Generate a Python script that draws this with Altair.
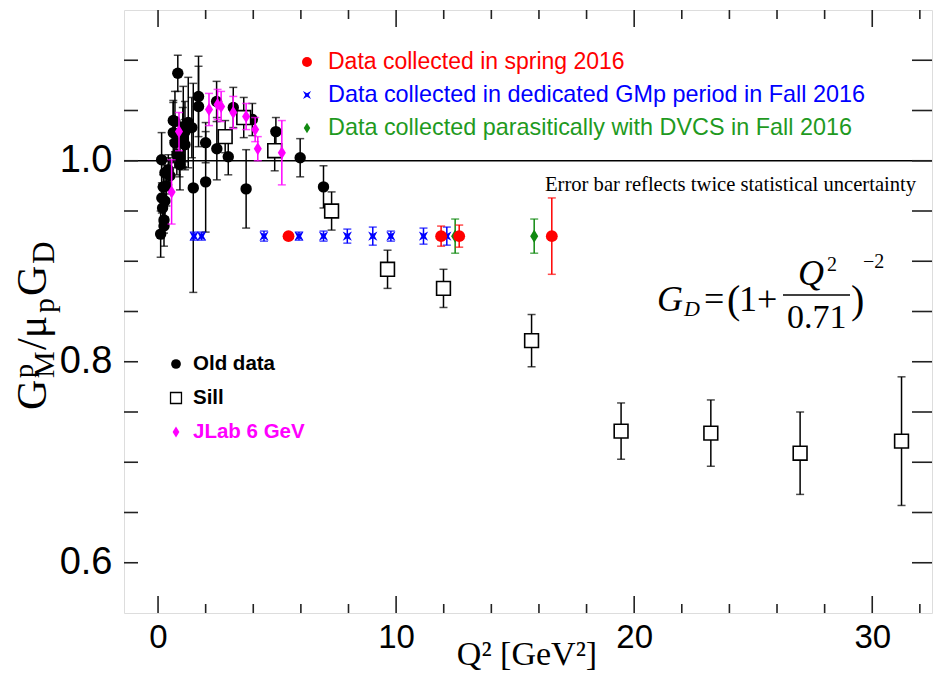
import altair as alt
import pandas as pd

# ---------------- data ----------------
old_q2 = [0.11, 0.15, 0.16, 0.19, 0.22, 0.25, 0.25, 0.29, 0.29, 0.35, 0.43, 0.5,
          0.64, 0.64, 0.71, 0.71, 0.79, 0.83, 0.9, 0.92, 1.04, 1.06, 1.13, 1.13,
          1.27, 1.42, 1.48, 1.7, 1.7, 2.0, 2.0, 2.46, 2.47, 2.95, 3.16, 3.7,
          3.96, 4.95, 5.97, 6.95]
old_val = [0.927, 1.001, 0.963, 0.953, 0.974, 0.941, 0.935, 0.988, 0.96, 0.975, 0.991, 0.985,
           1.028, 1.04, 1.018, 1.039, 1.006, 1.087, 1.004, 0.996, 1.023, 1.034, 1.016, 1.029,
           1.038, 1.033, 0.973, 1.064, 1.054, 1.018, 0.979, 1.059, 1.012, 1.004, 1.053, 0.972,
           1.041, 1.029, 1.003, 0.974]
old_err = [0.023, 0.027, 0.015, 0.014, 0.012, 0.013, 0.02, 0.012, 0.016, 0.02, 0.015, 0.018,
           0.03, 0.02, 0.025, 0.03, 0.02, 0.018, 0.02, 0.025, 0.03, 0.04, 0.025, 0.03,
           0.045, 0.03, 0.104, 0.04, 0.04, 0.02, 0.05, 0.02, 0.031, 0.018, 0.02, 0.039,
           0.016, 0.014, 0.019, 0.021]

jlab_q2 = [0.57, 0.88, 2.14, 2.5, 2.65, 3.16, 3.7, 4.08, 4.19, 5.2]
jlab_val = [0.969, 1.029, 1.051, 1.056, 1.054, 1.048, 1.044, 1.031, 1.012, 1.008]
jlab_err = [0.032, 0.019, 0.016, 0.015, 0.015, 0.016, 0.013, 0.012, 0.012, 0.032]

sill_q2 = [2.82, 3.6, 4.9, 7.29, 9.64, 11.99, 15.69, 19.45, 23.22, 26.97, 31.23]
sill_val = [1.024, 1.043, 1.01, 0.950, 0.892, 0.873, 0.821, 0.731, 0.729, 0.709, 0.721]
sill_err = [0.016, 0.02, 0.02, 0.019, 0.019, 0.019, 0.026, 0.028, 0.033, 0.041, 0.064]

gmp_q2 = [1.51, 1.83, 4.45, 5.92, 6.95, 7.95, 9.02, 9.78, 11.15, 12.13]
gmp_val = [0.925] * 10
gmp_err = [0.004, 0.004, 0.005, 0.004, 0.005, 0.007, 0.009, 0.005, 0.008, 0.009]

spring_q2 = [5.48, 11.89, 12.65, 16.54]
spring_val = [0.925, 0.925, 0.925, 0.925]
spring_err = [0.003, 0.010, 0.011, 0.038]

dvcs_q2 = [12.48, 15.8]
dvcs_val = [0.925, 0.925]
dvcs_err = [0.017, 0.017]

x_major = [0, 10, 20, 30]
x_minor = [2, 4, 6, 8, 12, 14, 16, 18, 22, 24, 26, 28, 32]
y_ticks = [0.6, 0.65, 0.7, 0.75, 0.8, 0.85, 0.9, 0.95, 1.0, 1.05, 1.1]
y_labels = [0.6, 0.8, 1.0]
ref_line = [1.0]

# ---------------- layout ----------------
W, H = 808, 603
xs = alt.Scale(domain=[-1.43, 32.51], nice=False, zero=False)
ys = alt.Scale(domain=[0.55, 1.15], nice=False, zero=False)

RED, BLUE, GREEN, MAG = "#ff0000", "#0000ff", "#118a11", "#ff00ff"
STAR = "M-1,-1L0,-0.45L1,-1L0.45,0L1,1L0,0.45L-1,1L-0.45,0Z"
DIAM = "M0,-1L0.62,0L0,1L-0.62,0Z"


def frame(q, v, e):
    return pd.DataFrame({"q": q, "v": v,
                         "lo": [a - b for a, b in zip(v, e)],
                         "hi": [a + b for a, b in zip(v, e)]})


def series(q, v, e, color, marker):
    d = frame(q, v, e)
    base = alt.Chart(d)
    X = alt.X("q:Q", scale=xs)
    bar = base.mark_rule(color=color, strokeWidth=1.5).encode(
        x=X, y=alt.Y("lo:Q", scale=ys), y2="hi:Q")
    cap1 = base.mark_tick(color=color, orient="horizontal", size=8, thickness=1.5).encode(
        x=X, y=alt.Y("lo:Q", scale=ys))
    cap2 = base.mark_tick(color=color, orient="horizontal", size=8, thickness=1.5).encode(
        x=X, y=alt.Y("hi:Q", scale=ys))
    pts = base.mark_point(**marker).encode(x=X, y=alt.Y("v:Q", scale=ys))
    return [bar, cap1, cap2, pts]


m_old = dict(shape="circle", filled=True, color="black", size=130, opacity=1)
m_sill = dict(shape="square", filled=True, fill="white", stroke="black", strokeWidth=1.6,
              size=190, opacity=1)
m_jlab = dict(shape=DIAM, filled=True, color=MAG, size=170, opacity=1)
m_gmp = dict(shape=STAR, filled=True, color=BLUE, size=85, opacity=1)
m_spring = dict(shape="circle", filled=True, color=RED, size=140, opacity=1)
m_dvcs = dict(shape=DIAM, filled=True, color=GREEN, size=170, opacity=1)

layers = []

# reference line at 1
layers.append(alt.Chart(pd.DataFrame({"y": ref_line})).mark_rule(color="black", strokeWidth=1.3)
              .encode(y=alt.Y("y:Q", scale=ys,
                              axis=alt.Axis(values=y_labels, format=".1f", title=None, ticks=False,
                                            tickSize=0, domain=False, grid=False,
                                            labelFont="Liberation Sans", labelFontSize=38,
                                            labelColor="black", labelPadding=12))))

# frame ticks
tx_major = pd.DataFrame({"q": x_major})
tx_minor = pd.DataFrame({"q": x_minor})
ty = pd.DataFrame({"v": y_ticks})
xaxis = alt.Axis(values=x_major, format="d", title=None, ticks=False, tickSize=0, domain=False,
                 grid=False, labelFont="Liberation Sans", labelFontSize=33, labelColor="black",
                 labelPadding=8)
tk = dict(color="#222", strokeWidth=1.6)
layers.append(alt.Chart(tx_major).mark_rule(**tk).encode(
    x=alt.X("q:Q", scale=xs, axis=xaxis), y=alt.value(H), y2=alt.value(H - 17)))
layers.append(alt.Chart(tx_major).mark_rule(**tk).encode(
    x=alt.X("q:Q", scale=xs), y=alt.value(0), y2=alt.value(17)))
layers.append(alt.Chart(tx_minor).mark_rule(**tk).encode(
    x=alt.X("q:Q", scale=xs), y=alt.value(H), y2=alt.value(H - 9)))
layers.append(alt.Chart(tx_minor).mark_rule(**tk).encode(
    x=alt.X("q:Q", scale=xs), y=alt.value(0), y2=alt.value(9)))
layers.append(alt.Chart(ty).mark_rule(**tk).encode(
    y=alt.Y("v:Q", scale=ys), x=alt.value(0), x2=alt.value(14)))
layers.append(alt.Chart(ty).mark_rule(**tk).encode(
    y=alt.Y("v:Q", scale=ys), x=alt.value(W), x2=alt.value(W - 20)))

# data series
layers += series(old_q2, old_val, old_err, "black", m_old)
layers += series(sill_q2, sill_val, sill_err, "black", m_sill)
layers += series(jlab_q2, jlab_val, jlab_err, MAG, m_jlab)
layers += series(gmp_q2, gmp_val, gmp_err, BLUE, m_gmp)
layers += series(dvcs_q2, dvcs_val, dvcs_err, GREEN, m_dvcs)
layers += series(spring_q2, spring_val, spring_err, RED, m_spring)

one = pd.DataFrame({"a": [0]})


def txt(s, x, y, size, color="black", font="Liberation Sans", weight="normal", style="normal",
        align="left", baseline="alphabetic", angle=0):
    kw = dict(text=s, fontSize=size, color=color, font=font, fontWeight=weight,
              fontStyle=style, align=align, baseline=baseline)
    if angle:
        kw["angle"] = angle
    return alt.Chart(one).mark_text(**kw).encode(x=alt.value(x), y=alt.value(y))


def glyph(marker, x, y):
    return alt.Chart(one).mark_point(**marker).encode(x=alt.value(x), y=alt.value(y))


# top legend
layers.append(glyph(dict(m_spring, size=100), 183, 52))
layers.append(txt("Data collected in spring 2016", 204, 52, 23, RED, baseline="middle"))
layers.append(glyph(dict(m_gmp, size=65), 183, 85))
layers.append(txt("Data collected in dedicated GMp period in Fall 2016", 204, 85, 23.4, BLUE,
                  baseline="middle"))
layers.append(glyph(dict(m_dvcs, size=110), 183, 118))
layers.append(txt("Data collected parasitically with DVCS in Fall 2016", 204, 118, 23.4,
                  "#1f9a1f", baseline="middle"))
layers.append(txt("Error bar reflects twice statistical uncertainty", 421, 175, 20.6,
                  font="Liberation Serif", baseline="middle"))

# lower legend
layers.append(glyph(dict(m_old, size=95), 52, 354))
layers.append(txt("Old data", 69, 354, 20.5, weight="bold", baseline="middle"))
layers.append(glyph(dict(m_sill, size=120, strokeWidth=1.3), 52, 388))
layers.append(txt("Sill", 69, 388, 20.5, weight="bold", baseline="middle"))
layers.append(glyph(dict(m_jlab, size=120), 52, 422))
layers.append(txt("JLab 6 GeV", 69, 422, 20.5, MAG, weight="bold", baseline="middle"))

# formula
SER = "Liberation Serif"
layers.append(txt("G", 533, 301, 36, font=SER, style="italic"))
layers.append(txt("D", 560, 306, 22, font=SER, style="italic"))
layers.append(txt("=", 580, 301, 36, font=SER))
layers.append(txt("(", 603, 303, 40, font=SER))
layers.append(txt("1+", 615, 301, 36, font=SER))
layers.append(alt.Chart(one).mark_rule(color="black", strokeWidth=1.6).encode(
    x=alt.value(659), x2=alt.value(726), y=alt.value(285)))
layers.append(txt("Q", 674, 275, 36, font=SER, style="italic"))
layers.append(txt("2", 703, 261, 20, font=SER))
layers.append(txt("0.71", 663, 318, 34, font=SER))
layers.append(txt(")", 727, 303, 40, font=SER))
layers.append(txt("\u22122", 739, 258, 20, font=SER))

# axis titles
layers.append(txt("Q\u00b2 [GeV\u00b2]", 403, 655, 34, font=SER, align="center"))
ytitle = [("G", -78, 400, 42), ("p", -91, 368, 28), ("M", -70, 368, 30),
          ("/\u03bc", -78, 340, 42), ("p", -70, 303, 30), ("G", -78, 286, 42),
          ("D", -70, 254, 31)]
for s, x, y, fs in ytitle:
    layers.append(txt(s, x, y, fs, font=SER, angle=270))

chart = alt.layer(*layers).properties(
    width=W, height=H,
    autosize=alt.AutoSizeParams(type="none"),
    padding={"left": 116, "top": 2, "right": 1, "bottom": 61},
).configure_view(stroke="#222", strokeWidth=2).configure(background="white")

chart.save("out.html", embed_options={"renderer": "svg", "actions": False})
